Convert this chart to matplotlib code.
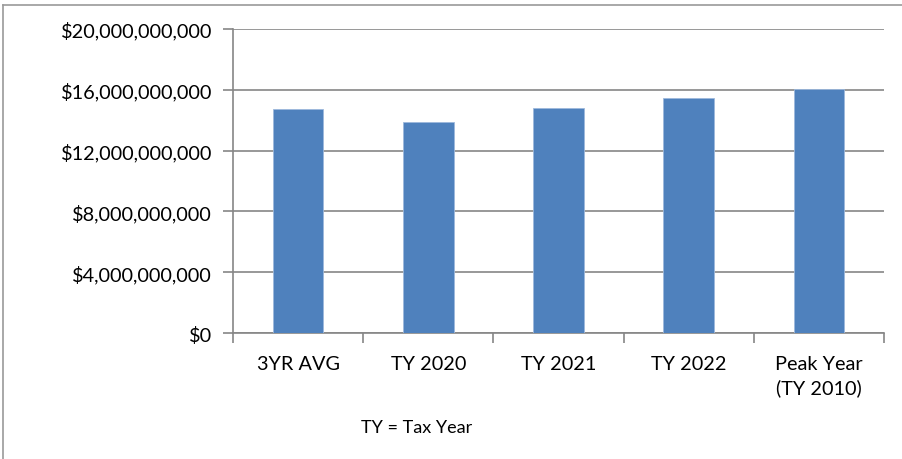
import matplotlib.pyplot as plt
from matplotlib.ticker import FuncFormatter, FixedLocator
from matplotlib.lines import Line2D

# Data
categories = ['3YR AVG', 'TY 2020', 'TY 2021', 'TY 2022', 'Peak Year\n(TY 2010)']
amounts = [14.74e9, 13.9e9, 14.8e9, 15.48e9, 16.05e9]
y_ticks = [0, 4e9, 8e9, 12e9, 16e9, 20e9]

plt.rcParams['font.family'] = ['Lato', 'DejaVu Sans']

W, H = 903, 460
fig = plt.figure(figsize=(W / 100, H / 100), dpi=100)
ax = fig.add_axes([233 / W, 1 - 334 / H, (884 - 233) / W, (334 - 30) / H])

grid_col = '#868686'
x = range(len(categories))
ax.bar(x, amounts, width=0.39, color='#4F81BD', edgecolor='#9DB9DC', linewidth=0.6, zorder=3)

ax.set_xlim(-0.5, len(categories) - 0.5)
ax.set_ylim(0, 20e9)
ax.set_yticks(y_ticks)
ax.yaxis.set_major_formatter(FuncFormatter(lambda v, p: '${:,.0f}'.format(v)))
ax.grid(axis='y', color=grid_col, linewidth=1.2, zorder=0)

ax.set_xticks(list(x))
ax.set_xticklabels(categories, fontsize=14.3, linespacing=1.4)
ax.xaxis.set_minor_locator(FixedLocator([i - 0.5 for i in range(len(categories) + 1)]))
ax.tick_params(axis='x', which='major', length=0, pad=16)
ax.tick_params(axis='x', which='minor', length=7, color=grid_col, width=1.2)
ax.tick_params(axis='y', length=7, color=grid_col, width=1.2, labelsize=14.3, pad=8)

for s in ['top', 'right']:
    ax.spines[s].set_visible(False)
for s in ['left', 'bottom']:
    ax.spines[s].set_color(grid_col)
    ax.spines[s].set_linewidth(1.2)

fig.text(417 / W, 1 - 428 / H, 'TY = Tax Year', ha='center', va='center', fontsize=13)

# outer chart border (left and top visible)
fig.add_artist(Line2D([3.5 / W, 3.5 / W], [0, 1 - 6 / H], color='#9a9a9a', linewidth=1.2, transform=fig.transFigure))
fig.add_artist(Line2D([3.5 / W, 1], [1 - 6 / H, 1 - 6 / H], color='#9a9a9a', linewidth=1.2, transform=fig.transFigure))

fig.savefig('out.png', dpi=100)
